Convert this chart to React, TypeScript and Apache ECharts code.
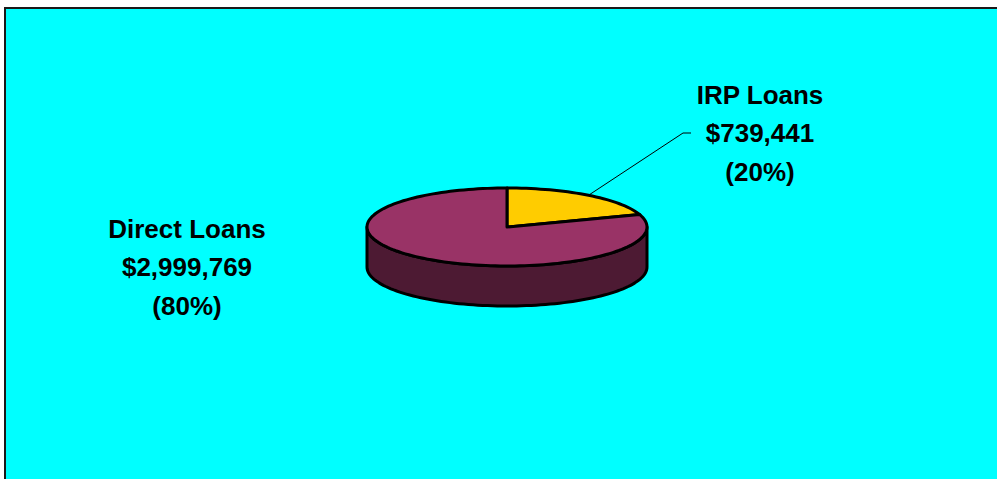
import React, { useEffect, useRef } from "react";
import * as echarts from "echarts";

const categories = ["IRP Loans", "Direct Loans"];
const loanValues = [739441, 2999769];
const topColors = ["#FFCC00", "#993366"];
const sideColors = ["#806600", "#4D1A33"];

const CX = 507;
const CY = 227;
const RX = 140;
const RY = 39;
const DEPTH = 40;
const labelPos: [number, number][] = [
  [760, 133],
  [187, 267],
];

const total = loanValues.reduce((a, b) => a + b, 0);

function pt(theta: number, dy = 0): [number, number] {
  return [CX + RX * Math.sin(theta), CY - RY * Math.cos(theta) + dy];
}

function arcPts(a: number, b: number, dy = 0): [number, number][] {
  const n = Math.max(2, Math.ceil(((b - a) / (Math.PI * 2)) * 180));
  const out: [number, number][] = [];
  for (let k = 0; k <= n; k++) out.push(pt(a + ((b - a) * k) / n, dy));
  return out;
}

function fmt(v: number) {
  return "$" + v.toLocaleString("en-US");
}

export default function App() {
  const ref = useRef<HTMLDivElement>(null);
  useEffect(() => {
    if (!ref.current) return;
    const chart = echarts.init(ref.current, null, { renderer: "svg" });
    const option: any = {
      animation: false,
      backgroundColor: "#ffffff",
      graphic: [
        {
          type: "rect",
          z: -10,
          shape: { x: 5, y: 8, width: 1100, height: 600 },
          style: { fill: "#00FFFF", stroke: "#1a1a1a", lineWidth: 2 },
        },
      ],
      series: [
        {
          type: "custom",
          coordinateSystem: "none",
          data: loanValues.map((v, i) => ({ value: [v], name: categories[i] })),
          renderItem: (params: any, api: any) => {
            const i = params.dataIndex;
            const v = api.value(0);
            let before = 0;
            for (let k = 0; k < i; k++) before += loanValues[k];
            const t0 = (before / total) * Math.PI * 2;
            const t1 = ((before + v) / total) * Math.PI * 2;
            const children: any[] = [];
            const a = Math.max(t0, Math.PI / 2);
            const b = Math.min(t1, (Math.PI * 3) / 2);
            if (a < b) {
              const topArc = arcPts(a, b, 0);
              const botArc = arcPts(a, b, DEPTH).reverse();
              children.push({
                type: "polygon",
                z2: 1,
                shape: { points: topArc.concat(botArc) },
                style: { fill: sideColors[i], stroke: "#000", lineWidth: 3, lineJoin: "round" },
              });
            }
            children.push({
              type: "polygon",
              z2: 5,
              shape: { points: [[CX, CY] as [number, number]].concat(arcPts(t0, t1, 0)) },
              style: { fill: topColors[i], stroke: "#000", lineWidth: 3, lineJoin: "round" },
            });
            const pct = Math.round((v / total) * 100);
            const [lx, ly] = labelPos[i];
            if (i === 0) {
              const mid = pt((t0 + t1) / 2);
              children.push({
                type: "polyline",
                z2: 6,
                shape: { points: [mid, [683, ly], [691, ly]] },
                style: { stroke: "#000", lineWidth: 1, fill: null },
              });
            }
            children.push({
              type: "text",
              z2: 10,
              style: {
                text: `${categories[i]}\n${fmt(v)}\n(${pct}%)`,
                x: lx,
                y: ly,
                align: "center",
                verticalAlign: "middle",
                fill: "#000",
                font: 'bold 26px "Liberation Sans", Arial, sans-serif',
                lineHeight: 38.5,
              },
            });
            return { type: "group", children };
          },
        },
      ],
    };
    chart.setOption(option);
    return () => chart.dispose();
  }, []);
  return (
    <div
      ref={ref}
      style={{ position: "absolute", left: 0, top: 0, width: 997, height: 479 }}
    />
  );
}
